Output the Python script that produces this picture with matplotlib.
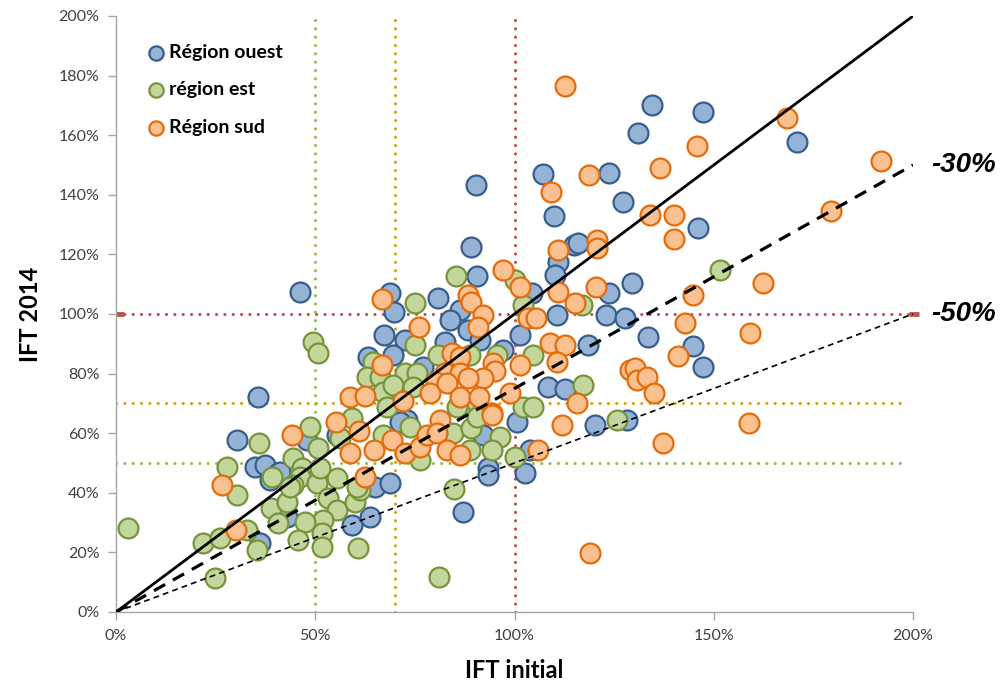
import numpy as np
import matplotlib.pyplot as plt

# valeurs en % (IFT initial, IFT 2014)
ouest_x = [46.2, 134.5, 147.3, 131, 170.9, 107.2, 123.8, 90.3, 127.1, 110, 146, 89, 114.8, 116,
           111, 90.7, 110.2, 104.3, 123.8, 129.4, 80.9, 86.3, 83.8, 110.6, 122.9, 127.7, 133.6,
           144.9, 147.4, 68.8, 69.8, 67.3, 72.5, 69.4, 63.3, 82.6, 88.4, 91.3, 97.2, 101.4, 118.5,
           108.5, 112.7, 77.1, 35.7, 72.9, 71.3, 100.5, 120.2, 128.1, 92.2, 55.4, 47.9, 30.3,
           34.9, 37.4, 40.7, 38.6, 41.2, 65, 68.8, 63.7, 59.1, 42.8, 36.1, 93.4, 93.4, 102.6,
           103.9, 87]
ouest_y = [107.5, 170.1, 167.8, 160.7, 157.7, 147, 147.2, 143.3, 137.7, 132.9, 129, 122.6, 123.2,
           123.7, 117.6, 112.9, 113.1, 106.9, 106.9, 110.5, 105.3, 101.3, 98, 99.7, 99.7, 98.6,
           92.2, 89.3, 82.3, 106.9, 100.8, 93, 91.3, 86.2, 85.7, 90.7, 94.6, 91.3, 87.9, 93, 89.6,
           75.6, 74.7, 82.3, 72.2, 64.4, 63.9, 63.9, 62.8, 64.4, 59.4, 59.4, 57.7, 57.7, 48.8,
           49.3, 46.5, 44.3, 47.1, 42, 43.2, 32, 29.2, 32, 23, 48.2, 46, 46.5, 54.4, 33.7]

est_x = [49.5, 50.8, 85.3, 100.1, 102.2, 116.9, 75, 75, 64.6, 62.9, 66.2, 72.5, 75.4, 67.1, 69.6,
         67.9, 74.6, 80.9, 88.8, 95.5, 104.7, 117.3, 90.5, 85.5, 102.2, 104.7, 151.6, 125.6, 73.8,
         48.7, 59.1, 50.8, 56.2, 67.1, 76.3, 84.6, 88.8, 89.1, 90.5, 96.4, 94.3, 100.1, 84.9,
         81.1, 35.9, 27.8, 30.3, 39.1, 44.5, 46.6, 46.2, 44.5, 50.4, 55.4, 53.3, 55.4, 60, 61.2,
         60.4, 52, 47.4, 51.6, 45.7, 51.6, 60.8, 39, 40.7, 42.8, 43.7, 21.9, 26.1, 32.8, 35.3,
         24.8, 3.1, 51.2]
est_y = [90.7, 87, 112.9, 111.4, 103, 103, 103.6, 89.6, 84, 79, 79, 80.1, 80.1, 73.9, 76.2, 68.9,
         75.6, 86.2, 86.2, 86.2, 86.2, 76.2, 70, 68.9, 68.9, 68.9, 114.8, 64.4, 62.2, 62.2, 65.1,
         54.9, 58.4, 59.4, 51, 60, 54.4, 61.6, 65.5, 58.8, 54.4, 52.1, 41.3, 11.6, 56.6, 48.8,
         39.3, 45.4, 51.6, 48.2, 45.4, 42.6, 43.2, 44.9, 38.2, 34.2, 37, 40.9, 42, 30.9, 30.3,
         26.4, 24.2, 21.9, 21.4, 34.8, 29.8, 37, 42, 23, 24.7, 27.5, 20.8, 11.3, 28.3, 48.2]

sud_x = [112.7, 168.4, 145.8, 192, 136.5, 118.8, 109.1, 139.9, 134, 179.3, 139.9, 111, 120.6,
         120.6, 97.2, 101.4, 111, 120.4, 144.9, 162.4, 88.2, 89, 92.2, 90.9, 103.5, 105.5, 115.2,
         142.8, 159.1, 66.7, 75.9, 66.7, 58.7, 62.5, 71.9, 108.9, 112.7, 110.6, 101.4, 94.7,
         95.1, 92.2, 84.2, 86.3, 82.6, 86.3, 88.4, 80.4, 78.8, 83, 86.3, 91.2, 94.3, 98.9, 115.6,
         129, 130.2, 130.7, 133.2, 135, 141.1, 111.8, 137.3, 158.9, 118.9, 106, 44.1, 55.1, 61,
         58.7, 64.7, 69.2, 72.5, 76.3, 78, 81.3, 80.5, 83, 86.3, 94.3, 62.5, 26.7, 30]
sud_y = [176.5, 165.8, 156.4, 151.3, 148.9, 146.6, 140.8, 133.2, 133.2, 134.6, 125, 121.5, 124.8,
         122, 114.8, 109, 107.5, 109, 106.4, 110.3, 106.4, 104.1, 99.7, 95.7, 98.6, 98.6, 103.6,
         97.1, 93.5, 104.9, 95.7, 82.9, 72.2, 72.5, 70.9, 90.2, 89.6, 84, 82.9, 83.5, 80.7, 78.4,
         86.8, 85.7, 80.1, 80.1, 78.4, 77.3, 73.4, 76.7, 72.2, 72.2, 66.7, 73.4, 70.2, 81.2, 81.8,
         77.9, 79, 73.4, 85.9, 62.8, 56.8, 63.5, 19.7, 54.4, 59.4, 63.9, 60.8, 53.3, 54.4, 57.7,
         53.3, 55.5, 59.4, 64.4, 60, 54.4, 52.7, 66.1, 45.4, 42.6, 27.5]

fig = plt.figure(figsize=(10.03, 6.89), dpi=100)
ax = fig.add_axes([0.1157, 0.1118, 0.7946, 0.865])

# lignes de seuil pointillées
dot = (0, (0.01, 2.6))
kw = dict(lw=2.3, ls=dot, dash_capstyle='round', zorder=1)
ax.plot([0, 200], [100, 100], color='#C0504D', **kw)
ax.plot([0, 198.5], [70, 70], color='#D9A30E', **kw)
ax.plot([0, 198.5], [50, 50], color='#92C050', **kw)
ax.plot([50, 50], [0, 200], color='#92C050', **kw)
ax.plot([70, 70], [0, 200], color='#D9A30E', **kw)
ax.plot([100, 100], [0, 200], color='#C0504D', **kw)
ax.plot([0, 2], [100, 100], color='#C0504D', lw=3.5, solid_capstyle='butt', zorder=1, clip_on=False)
ax.plot([199, 201.5], [100, 100], color='#C0504D', lw=3.5, solid_capstyle='butt', zorder=1, clip_on=False)

s = 205
ax.scatter(ouest_x, ouest_y, s=s, facecolor='#95B3D7', edgecolor='#385D8A', lw=1.6, zorder=2,
           label='Région ouest')
ax.scatter(est_x, est_y, s=s, facecolor='#C3D69B', edgecolor='#77933C', lw=1.6, zorder=2,
           label='région est')
ax.scatter(sud_x, sud_y, s=s, facecolor='#FAC090', edgecolor='#E46C0A', lw=1.6, zorder=2,
           label='Région sud')

# droites de référence
xs = np.array([0, 200])
ax.plot(xs, xs, color='black', lw=2, zorder=3)
ax.plot(xs, 0.75 * xs, color='black', lw=2.3, ls=(0, (4, 2.8)), zorder=3)
ax.plot(xs, 0.5 * xs, color='black', lw=1.2, ls=(0, (3.5, 2.5)), zorder=3)

ax.text(204.5, 150, '-30%', fontsize=20, fontweight='bold', style='italic',
        family=['Liberation Sans Narrow', 'Liberation Sans'], va='center', ha='left', clip_on=False)
ax.text(204.5, 100, '-50%', fontsize=20, fontweight='bold', style='italic',
        family=['Liberation Sans Narrow', 'Liberation Sans'], va='center', ha='left', clip_on=False)

ax.set_xlim(0, 200)
ax.set_ylim(0, 200)
ax.set_xticks(range(0, 201, 50))
ax.set_yticks(range(0, 201, 20))
ax.set_xticklabels([f'{v}%' for v in range(0, 201, 50)])
ax.set_yticklabels([f'{v}%' for v in range(0, 201, 20)])
for sp in ['top', 'right']:
    ax.spines[sp].set_visible(False)
for sp in ['left', 'bottom']:
    ax.spines[sp].set_color('#A6A6A6')
    ax.spines[sp].set_linewidth(1)
ax.tick_params(axis='both', direction='out', length=6, width=1, color='#A6A6A6',
               labelsize=11.5, labelcolor='#404040', pad=6)
for lab in ax.get_xticklabels() + ax.get_yticklabels():
    lab.set_family('Lato')

ax.set_xlabel('IFT initial', fontsize=17, fontweight='bold', family='Lato', labelpad=12)
ax.set_ylabel('IFT 2014', fontsize=17, fontweight='bold', family='Lato', labelpad=12)

leg = ax.legend(loc='upper left', bbox_to_anchor=(0.03, 0.966), frameon=False, markerscale=0.72,
                handlelength=0.8, handletextpad=0.3, labelspacing=1.05, borderaxespad=0,
                prop={'family': 'Lato', 'weight': 'bold', 'size': 14})

fig.savefig('out.png', dpi=100)
